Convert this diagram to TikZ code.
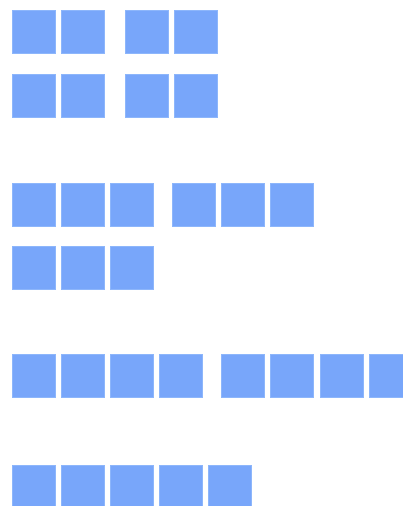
\documentclass[tikz,border=0pt]{standalone}
\usepackage{xcolor}
\usetikzlibrary{positioning}
\definecolor{cellblue}{HTML}{78A6FA}
\definecolor{cellrim}{HTML}{8DB6FB}
\tikzset{
  cell/.style={draw=cellrim, fill=cellblue, line width=0.8pt, minimum width=43pt, minimum height=43pt, inner sep=0pt, anchor=north west}}

\begin{document}
\begin{tikzpicture}[x=1pt, y=-1pt]
\clip (0,0) rectangle (403,506);
\fill[white] (0,0) rectangle (403,506);
% two groups of two, twice
\foreach \r/\y in {a/9,b/73} {
  \foreach \i in {0,1} \node[cell] (\r l\i) at ({11.5+49*\i},\y.5) {};
  \foreach \i in {0,1} \node[cell] (\r r\i) at ({124.5+49*\i},\y.5) {};
}
% three and three, then three
\foreach \i in {0,1,2} \node[cell] (cl\i) at ({11.5+49*\i},182.5) {};
\foreach \i in {0,1,2} \node[cell] (cr\i) at ({171.5+49*\i},182.5) {};
\foreach \i in {0,1,2} \node[cell] (dl\i) at ({11.5+49*\i},245.5) {};
% four and four
\foreach \i in {0,...,3} \node[cell] (el\i) at ({11.5+49*\i},353.5) {};
\foreach \i in {0,...,3} \node[cell] (er\i) at ({220.5+49.5*\i},353.5) {};
% five
\foreach \i in {0,...,4} \node[cell] (fl\i) at ({11.5+49*\i},464.5) {};
\end{tikzpicture}
\end{document}
